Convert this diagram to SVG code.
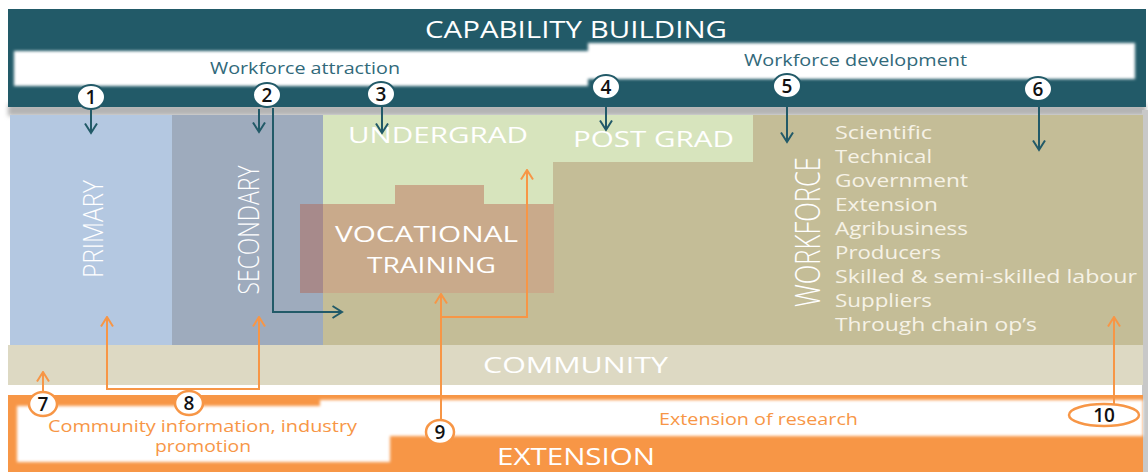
<svg xmlns="http://www.w3.org/2000/svg" width="1148" height="472" viewBox="0 0 1148 472">
  <defs>
    <style>
      .t { font-family: "Open Sans", "Noto Sans", "DejaVu Sans", sans-serif; }
      .w { fill: #ffffff; }
      .lbl { fill: #ffffff; font-size: 22px; }
      .rot { fill: #ffffff; font-weight: 300; }
      .list { fill: #f6f2e6; font-size: 18px; }
      .band { fill: #31697a; font-size: 15.5px; }
      .orng { fill: #f79646; font-size: 15.5px; }
      .num { fill: #111111; font-size: 19px; font-weight: 600; }
      .tl { fill: none; stroke: #225a68; stroke-width: 2; }
      .ol { fill: none; stroke: #f79646; stroke-width: 2; }
      .cT { fill: #ffffff; stroke: #225a68; stroke-width: 2; }
      .cO { fill: #ffffff; stroke: #f79646; stroke-width: 2.5; }
    </style>
    <filter id="soft" x="-5%" y="-20%" width="110%" height="140%">
      <feGaussianBlur stdDeviation="1.4"/>
    </filter>
    <filter id="shade" x="-5%" y="-100%" width="110%" height="300%">
      <feGaussianBlur stdDeviation="2"/>
    </filter>
    <marker id="arT" viewBox="0 0 12 14" refX="10.5" refY="7" markerWidth="12" markerHeight="14" markerUnits="userSpaceOnUse" orient="auto">
      <path d="M1,1 L10.5,7 L1,13" fill="none" stroke="#225a68" stroke-width="2"/>
    </marker>
    <marker id="arO" viewBox="0 0 12 14" refX="10.5" refY="7" markerWidth="12" markerHeight="14" markerUnits="userSpaceOnUse" orient="auto">
      <path d="M1,1 L10.5,7 L1,13" fill="none" stroke="#f79646" stroke-width="2"/>
    </marker>
  </defs>

  <rect width="1148" height="472" fill="#ffffff"/>

  <!-- shadows under the top bar and along the right edge -->
  <rect x="8" y="104" width="1138" height="12" fill="#b4b4b4" filter="url(#shade)"/>
  <rect x="1142" y="110" width="6" height="362" fill="#c8c8c8"/>

  <!-- capability building bar -->
  <g id="capability-building">
    <rect x="8" y="9" width="1138" height="98" fill="#225a68"/>
    <path d="M14,51 H588 V43 H1135 V79 H588 V86 H14 Z" fill="#ffffff" filter="url(#soft)"/>
    <text class="t w" x="576" y="38" font-size="23" text-anchor="middle" textLength="302" lengthAdjust="spacingAndGlyphs">CAPABILITY BUILDING</text>
    <text class="t band" x="305" y="74" text-anchor="middle" textLength="190" lengthAdjust="spacingAndGlyphs">Workforce attraction</text>
    <text class="t band" x="855.5" y="66" text-anchor="middle" textLength="223" lengthAdjust="spacingAndGlyphs">Workforce development</text>
  </g>

  <!-- education and workforce blocks -->
  <g id="workforce">
    <rect x="323" y="115" width="820" height="230" fill="#c4bd97"/>
    <text class="t rot" transform="translate(820,232) rotate(-90)" font-size="34" text-anchor="middle" textLength="150" lengthAdjust="spacingAndGlyphs">WORKFORCE</text>
    <g class="t list">
      <text x="835" y="139" textLength="97" lengthAdjust="spacingAndGlyphs">Scientific</text>
      <text x="835" y="163" textLength="97" lengthAdjust="spacingAndGlyphs">Technical</text>
      <text x="835" y="187" textLength="133" lengthAdjust="spacingAndGlyphs">Government</text>
      <text x="835" y="211" textLength="103" lengthAdjust="spacingAndGlyphs">Extension</text>
      <text x="835" y="235" textLength="133" lengthAdjust="spacingAndGlyphs">Agribusiness</text>
      <text x="835" y="259" textLength="106" lengthAdjust="spacingAndGlyphs">Producers</text>
      <text x="835" y="283" textLength="302" lengthAdjust="spacingAndGlyphs">Skilled &amp; semi-skilled labour</text>
      <text x="835" y="307" textLength="97" lengthAdjust="spacingAndGlyphs">Suppliers</text>
      <text x="835" y="331" textLength="202" lengthAdjust="spacingAndGlyphs">Through chain op’s</text>
    </g>
  </g>

  <g id="primary">
    <rect x="10" y="115" width="162" height="230" fill="#b4c8e1"/>
    <text class="t rot" transform="translate(103,229) rotate(-90)" font-size="28" text-anchor="middle" textLength="98" lengthAdjust="spacingAndGlyphs">PRIMARY</text>
  </g>

  <g id="secondary">
    <rect x="172" y="115" width="151" height="230" fill="#9eabbd"/>
    <text class="t rot" transform="translate(259,230) rotate(-90)" font-size="29" text-anchor="middle" textLength="129" lengthAdjust="spacingAndGlyphs">SECONDARY</text>
  </g>

  <g id="undergrad">
    <rect x="323" y="115" width="230" height="90" fill="#d7e4bd"/>
    <text class="t lbl" x="438" y="143" font-size="21" text-anchor="middle" textLength="180" lengthAdjust="spacingAndGlyphs">UNDERGRAD</text>
  </g>

  <g id="post-grad">
    <rect x="553" y="115" width="200" height="47" fill="#d7e4bd"/>
    <text class="t lbl" x="653.5" y="147" text-anchor="middle" textLength="161" lengthAdjust="spacingAndGlyphs">POST GRAD</text>
  </g>

  <g id="vocational-training">
    <path d="M323,204 H395 V185 H484 V204 H554 V293 H323 Z" fill="#c9aa8b"/>
    <rect x="300" y="204" width="23" height="89" fill="#a78a8b"/>
    <text class="t lbl" x="426.5" y="242" font-size="23" text-anchor="middle" textLength="183" lengthAdjust="spacingAndGlyphs">VOCATIONAL</text>
    <text class="t lbl" x="431.5" y="273" font-size="23" text-anchor="middle" textLength="129" lengthAdjust="spacingAndGlyphs">TRAINING</text>
  </g>

  <g id="community">
    <rect x="8" y="345" width="1135" height="40" fill="#ddd9c3"/>
    <text class="t lbl" x="575.5" y="373" font-size="21" text-anchor="middle" textLength="185" lengthAdjust="spacingAndGlyphs">COMMUNITY</text>
  </g>

  <g id="extension">
    <rect x="8" y="395" width="1135" height="77" fill="#f79646"/>
    <path d="M17,406 H320 V400 H1143 V436 H390 V462 H17 Z" fill="#ffffff" filter="url(#soft)"/>
    <text class="t w" x="576" y="465" font-size="23" text-anchor="middle" textLength="158" lengthAdjust="spacingAndGlyphs">EXTENSION</text>
    <text class="t orng" x="758.5" y="425" text-anchor="middle" textLength="199" lengthAdjust="spacingAndGlyphs">Extension of research</text>
    <text class="t orng" x="202.5" y="432" text-anchor="middle" textLength="309" lengthAdjust="spacingAndGlyphs">Community information, industry</text>
    <text class="t orng" x="203" y="452" text-anchor="middle" textLength="96" lengthAdjust="spacingAndGlyphs">promotion</text>
  </g>

  <!-- connectors -->
  <g id="connectors">
    <path class="tl" d="M91,110 V133" marker-end="url(#arT)"/>
    <path class="tl" d="M259,109 V132" marker-end="url(#arT)"/>
    <path class="tl" d="M273,108 V312 H342" marker-end="url(#arT)"/>
    <path class="tl" d="M382,107 V133" marker-end="url(#arT)"/>
    <path class="tl" d="M606,100 V130" marker-end="url(#arT)"/>
    <path class="tl" d="M787,98 V142" marker-end="url(#arT)"/>
    <path class="tl" d="M1039,101 V150" marker-end="url(#arT)"/>
    <path class="ol" d="M43,392 V372" marker-end="url(#arO)"/>
    <path class="ol" d="M189,389 H107 V317" marker-end="url(#arO)"/>
    <path class="ol" d="M189,389 H259 V317" marker-end="url(#arO)"/>
    <path class="ol" d="M441,421 V294" marker-end="url(#arO)"/>
    <path class="ol" d="M441,317 H527 V170" marker-end="url(#arO)"/>
    <path class="ol" d="M1114,404 V317" marker-end="url(#arO)"/>
  </g>

  <!-- numbered markers -->
  <g id="n1"><ellipse class="cT" cx="91" cy="97" rx="14" ry="12"/><text class="t num" x="91" y="104" text-anchor="middle">1</text></g>
  <g id="n2"><ellipse class="cT" cx="267" cy="95" rx="14" ry="12"/><text class="t num" x="267" y="102" text-anchor="middle">2</text></g>
  <g id="n3"><ellipse class="cT" cx="381" cy="94" rx="14" ry="12"/><text class="t num" x="381" y="101" text-anchor="middle">3</text></g>
  <g id="n4"><ellipse class="cT" cx="606" cy="87" rx="14" ry="12"/><text class="t num" x="606" y="94" text-anchor="middle">4</text></g>
  <g id="n5"><ellipse class="cT" cx="787" cy="86" rx="14" ry="12"/><text class="t num" x="787" y="93" text-anchor="middle">5</text></g>
  <g id="n6"><ellipse class="cT" cx="1038" cy="89" rx="14" ry="12"/><text class="t num" x="1038" y="96" text-anchor="middle">6</text></g>
  <g id="n7"><ellipse class="cO" cx="43" cy="404" rx="14" ry="12"/><text class="t num" x="43" y="411" text-anchor="middle">7</text></g>
  <g id="n8"><ellipse class="cO" cx="189" cy="403" rx="14" ry="12"/><text class="t num" x="189" y="410" text-anchor="middle">8</text></g>
  <g id="n9"><ellipse class="cO" cx="440" cy="432" rx="14" ry="12"/><text class="t num" x="440" y="439" text-anchor="middle">9</text></g>
  <g id="n10"><ellipse class="cO" cx="1104" cy="415" rx="35" ry="11"/><text class="t num" x="1104" y="422" text-anchor="middle">10</text></g>
</svg>
